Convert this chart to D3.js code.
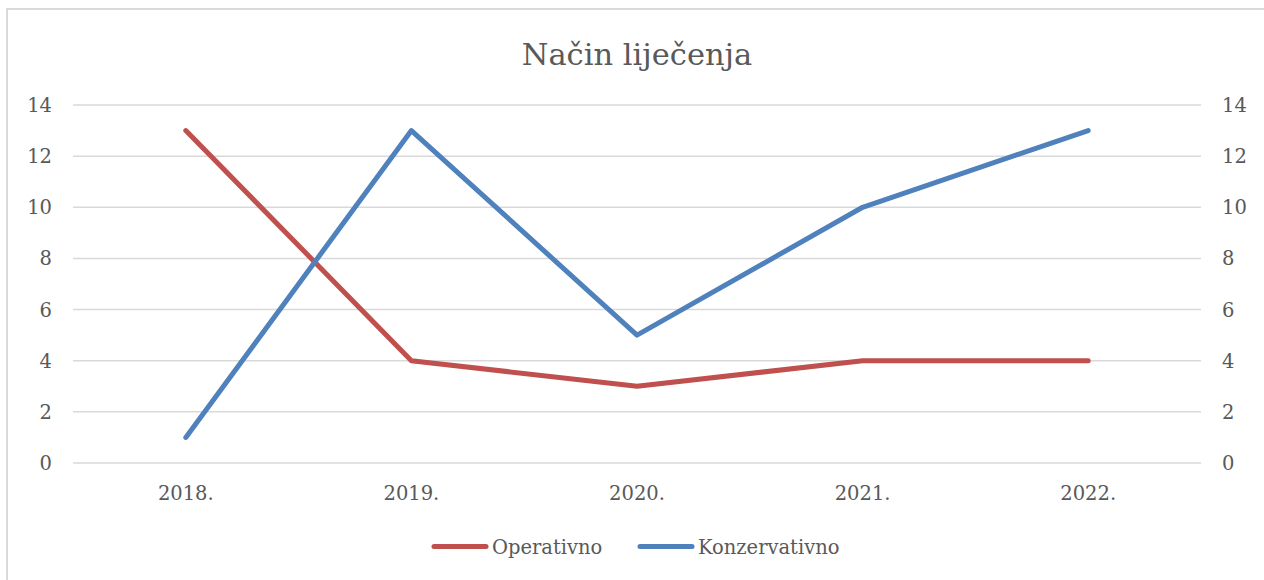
<!DOCTYPE html>
<html><head><meta charset="utf-8">
<script src="https://cdn.jsdelivr.net/npm/d3@7"></script>
<style>body{margin:0;background:#fff}svg{display:block}</style>
</head><body>
<script>
const categories = ["2018.", "2019.", "2020.", "2021.", "2022."];
const operativno = [13, 4, 3, 4, 4];
const konzervativno = [1, 13, 5, 10, 13];
const yTicks = [0, 2, 4, 6, 8, 10, 12, 14];
const seriesNames = ["Operativno", "Konzervativno"];
const colors = ["#C0504D", "#4F81BD"];

const W = 1264, H = 580;
const font = "'DejaVu Serif', serif";
const svg = d3.select("body").append("svg").attr("width", W).attr("height", H);
svg.append("rect").attr("x", 7).attr("y", 9).attr("width", W).attr("height", H).attr("fill", "#fff").attr("stroke", "#d9d9d9").attr("stroke-width", 2);

const m = {left: 73, right: 1201, top: 105, bottom: 463};
const x = d3.scalePoint().domain(categories).range([m.left, m.right]).padding(0.5);
const y = d3.scaleLinear().domain([0, 14]).range([m.bottom, m.top]);

svg.append("g").selectAll("line").data(yTicks).join("line")
  .attr("x1", m.left).attr("x2", m.right)
  .attr("y1", d => y(d)).attr("y2", d => y(d))
  .attr("stroke", "#d9d9d9").attr("stroke-width", 1.5);

const lab = {fill: "#595959", "font-family": font, "font-size": "19.5px"};
function applyStyle(s, st){ for (const k in st) s.attr(k, st[k]); return s; }

applyStyle(svg.append("g").selectAll("text").data(yTicks).join("text")
  .attr("x", 52).attr("y", d => y(d)).attr("dy", "0.36em").attr("text-anchor", "end").text(d => d), lab);
applyStyle(svg.append("g").selectAll("text").data(yTicks).join("text")
  .attr("x", 1222).attr("y", d => y(d)).attr("dy", "0.36em").attr("text-anchor", "start").text(d => d), lab);
applyStyle(svg.append("g").selectAll("text").data(categories).join("text")
  .attr("x", d => x(d)).attr("y", 500).attr("text-anchor", "middle").text(d => d), lab);

svg.append("text").attr("x", 637).attr("y", 65).attr("text-anchor", "middle")
  .attr("fill", "#595959").attr("font-family", font).attr("font-size", "30.5px").text("Način liječenja");

const line = d3.line().x((d, i) => x(categories[i])).y(d => y(d));
[operativno, konzervativno].forEach((s, i) => {
  svg.append("path").datum(s).attr("d", line).attr("fill", "none")
    .attr("stroke", colors[i]).attr("stroke-width", 5).attr("stroke-linecap", "round").attr("stroke-linejoin", "round");
});

const legX = [432, 638];
seriesNames.forEach((n, i) => {
  svg.append("line").attr("x1", legX[i] + 2).attr("x2", legX[i] + 54).attr("y1", 546.5).attr("y2", 546.5)
    .attr("stroke", colors[i]).attr("stroke-width", 5).attr("stroke-linecap", "round");
  applyStyle(svg.append("text").attr("x", legX[i] + 60).attr("y", 547).attr("dy", "0.36em").text(n), lab);
});
</script>
</body></html>
